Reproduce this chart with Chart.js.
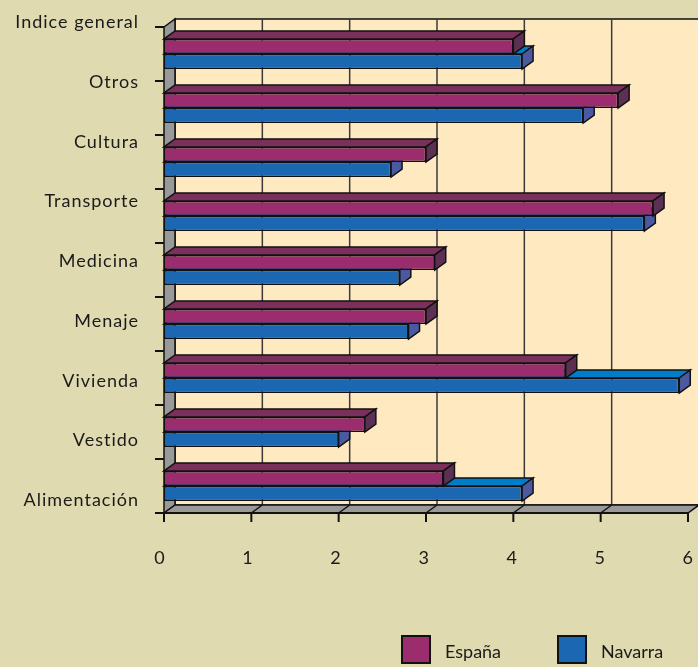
<!DOCTYPE html>
<html>
<head>
<meta charset="utf-8">
<script src="https://cdn.jsdelivr.net/npm/chart.js@4.4.0/dist/chart.umd.min.js"></script>
<style>
  body { margin: 0; background: #dfdaaf; }
  canvas { display: block; }
</style>
</head>
<body>
<canvas id="graph" width="698" height="667"></canvas>
<script>
// datos
var categorias = ['Indice general', 'Otros', 'Cultura', 'Transporte', 'Medicina', 'Menaje', 'Vivienda', 'Vestido', 'Alimentación'];
var espana  = [4.0, 5.2, 3.0, 5.6, 3.1, 3.0, 4.6, 2.3, 3.2];
var navarra = [4.1, 4.8, 2.6, 5.5, 2.7, 2.8, 5.9, 2.0, 4.1];
var ticksX  = [0, 1, 2, 3, 4, 5, 6];

var fuente = '18px Lato, "Noto Sans", sans-serif';
var prof_x = 11, prof_y = 8; // profondeur du faux 3D

// couleurs des faces : avant, dessus, côté
var couleurs = [
  { front: '#9b2d6f', top: '#7a305a', side: '#5c3052' },
  { front: '#1b67b2', top: '#007dc8', side: '#4b5aa0' }
];

function poly(ctx, pts, fill) {
  ctx.beginPath();
  ctx.moveTo(pts[0][0], pts[0][1]);
  for (var i = 1; i < pts.length; i++) ctx.lineTo(pts[i][0], pts[i][1]);
  ctx.closePath();
  if (fill) { ctx.fillStyle = fill; ctx.fill(); }
  ctx.stroke();
}

var decor3d = {
  id: 'decor3d',
  beforeDatasetsDraw: function(chart) {
    var ctx = chart.ctx, a = chart.chartArea, sx = chart.scales.x, sy = chart.scales.y;
    ctx.save();
    ctx.strokeStyle = '#111';
    ctx.lineWidth = 1.5;
    // mur du fond
    poly(ctx, [[a.left + prof_x, a.top - prof_y], [a.right + prof_x, a.top - prof_y],
               [a.right + prof_x, a.bottom - prof_y], [a.left + prof_x, a.bottom - prof_y]], '#fee9c1');
    ctx.strokeStyle = '#3a3a3a';
    for (var v = 1; v < 6; v++) {
      var px = sx.getPixelForValue(v) + prof_x;
      ctx.beginPath();
      ctx.moveTo(px, a.top - prof_y);
      ctx.lineTo(px, a.bottom - prof_y);
      ctx.stroke();
    }
    ctx.strokeStyle = '#111';
    // mur gauche
    poly(ctx, [[a.left, a.top], [a.left + prof_x, a.top - prof_y],
               [a.left + prof_x, a.bottom - prof_y], [a.left, a.bottom]], '#999999');
    // sol
    poly(ctx, [[a.left, a.bottom], [a.left + prof_x, a.bottom - prof_y],
               [a.right + prof_x, a.bottom - prof_y], [a.right, a.bottom]], '#999999');
    for (var v = 1; v < 6; v++) {
      var px = sx.getPixelForValue(v);
      ctx.beginPath();
      ctx.moveTo(px, a.bottom);
      ctx.lineTo(px + prof_x, a.bottom - prof_y);
      ctx.stroke();
    }
    // graduations
    ctx.lineWidth = 2;
    ctx.beginPath();
    ctx.moveTo(a.left, a.bottom);
    ctx.lineTo(a.right, a.bottom);
    ctx.stroke();
    ticksX.forEach(function(v) {
      var px = sx.getPixelForValue(v);
      ctx.beginPath();
      ctx.moveTo(px, a.bottom);
      ctx.lineTo(px, a.bottom + 9);
      ctx.stroke();
    });
    var bande = (a.bottom - a.top) / categorias.length;
    for (var i = 0; i <= categorias.length; i++) {
      var py = sy.getPixelForValue(0) - bande / 2 + i * bande;
      ctx.beginPath();
      ctx.moveTo(a.left - 9, py);
      ctx.lineTo(a.left, py);
      ctx.stroke();
    }
    ctx.restore();
  },
  afterDatasetDraw: function(chart, args) {
    var ctx = chart.ctx, c = couleurs[args.index];
    ctx.save();
    ctx.strokeStyle = '#111';
    ctx.lineWidth = 1.5;
    args.meta.data.forEach(function(bar) {
      var p = bar.getProps(['x', 'y', 'base', 'height'], true);
      var haut = p.y - p.height / 2, bas = p.y + p.height / 2;
      poly(ctx, [[p.base, haut], [p.base + prof_x, haut - prof_y], [p.x + prof_x, haut - prof_y], [p.x, haut]], c.top);
      poly(ctx, [[p.x, haut], [p.x + prof_x, haut - prof_y], [p.x + prof_x, bas - prof_y], [p.x, bas]], c.side);
    });
    ctx.restore();
  },
  afterDraw: function(chart) {
    var ctx = chart.ctx, a = chart.chartArea, sx = chart.scales.x, sy = chart.scales.y;
    ctx.save();
    ctx.font = fuente;
    ctx.letterSpacing = '1px';
    ctx.fillStyle = '#1a1a1a';
    ctx.textBaseline = 'middle';
    // étiquettes des catégories (elles glissent vers le bas dans l'original)
    ctx.textAlign = 'right';
    categorias.forEach(function(cat, i) {
      ctx.fillText(cat, a.left - 25, sy.getPixelForValue(i) + (i - 5.5) * 5.75);
    });
    ctx.textAlign = 'center';
    ticksX.forEach(function(v) {
      ctx.fillText(String(v), sx.getPixelForValue(v) - 4 + v * 0.7, a.bottom + 45);
    });
    // légende
    ctx.letterSpacing = '0px';
    ctx.textAlign = 'left';
    var posLeg = [402, 558];
    chart.data.datasets.forEach(function(ds, i) {
      ctx.fillStyle = ds.backgroundColor;
      ctx.strokeStyle = '#111';
      ctx.lineWidth = 2;
      ctx.fillRect(posLeg[i], 636, 28, 27);
      ctx.strokeRect(posLeg[i], 636, 28, 27);
      ctx.fillStyle = '#1a1a1a';
      ctx.fillText(ds.label, posLeg[i] + 43, 652);
    });
    ctx.restore();
  }
};

var ctxt = document.getElementById('graph');
var graph = new Chart(ctxt, {
  type: 'bar',
  data: {
    labels: categorias,
    datasets: [
      { label: 'España', data: espana, backgroundColor: couleurs[0].front },
      { label: 'Navarra', data: navarra, backgroundColor: couleurs[1].front }
    ]
  },
  options: {
    indexAxis: 'y',
    responsive: false,
    animation: false,
    layout: { padding: { left: 164, right: 10, top: 27, bottom: 154 } },
    datasets: {
      bar: {
        categoryPercentage: 0.56,
        barPercentage: 1,
        borderColor: '#111',
        borderWidth: 1.5,
        borderSkipped: false
      }
    },
    scales: {
      x: { display: false, min: 0, max: 6 },
      y: { display: false }
    },
    plugins: { legend: { display: false }, tooltip: { enabled: false } }
  },
  plugins: [decor3d]
});
</script>
</body>
</html>
